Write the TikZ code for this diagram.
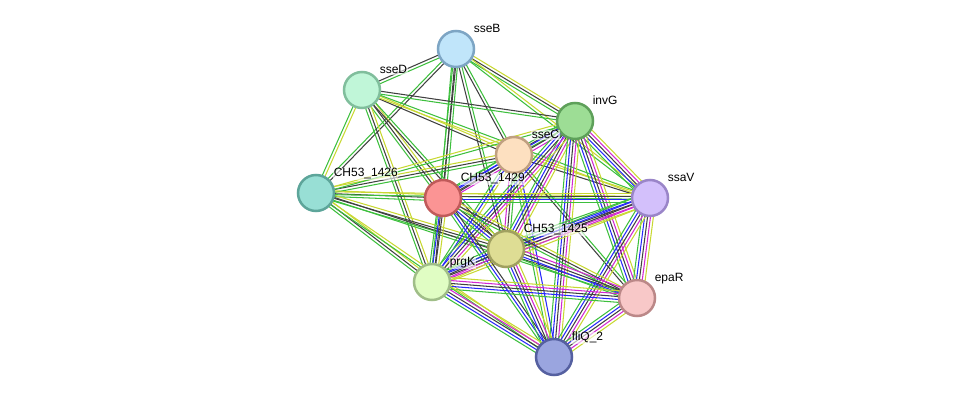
\documentclass[tikz,border=0pt]{standalone}
\usepackage{fontspec}
\setmainfont{Liberation Sans}
\usepackage{tikz}
\usetikzlibrary{calc, backgrounds}
% evidence colours
\definecolor{egreen}{RGB}{61, 191, 61}
\definecolor{eblack}{RGB}{64, 64, 64}
\definecolor{eyellow}{RGB}{200, 216, 50}
\definecolor{eblue}{RGB}{40, 40, 250}
\definecolor{emagenta}{RGB}{210, 40, 210}
% node colours
\definecolor{sseBfill}{RGB}{192, 229, 250}\definecolor{sseBdraw}{RGB}{125, 165, 196}
\definecolor{sseDfill}{RGB}{192, 246, 216}\definecolor{sseDdraw}{RGB}{128, 190, 156}
\definecolor{invGfill}{RGB}{157, 221, 149}\definecolor{invGdraw}{RGB}{94, 160, 90}
\definecolor{sseCfill}{RGB}{253, 224, 192}\definecolor{sseCdraw}{RGB}{192, 160, 128}
\definecolor{cAfill}{RGB}{152, 223, 213}\definecolor{cAdraw}{RGB}{93, 165, 154}
\definecolor{cBfill}{RGB}{251, 148, 148}\definecolor{cBdraw}{RGB}{192, 90, 90}
\definecolor{ssaVfill}{RGB}{211, 192, 251}\definecolor{ssaVdraw}{RGB}{154, 133, 200}
\definecolor{cCfill}{RGB}{222, 221, 148}\definecolor{cCdraw}{RGB}{160, 160, 96}
\definecolor{prgKfill}{RGB}{224, 253, 195}\definecolor{prgKdraw}{RGB}{160, 190, 136}
\definecolor{epaRfill}{RGB}{248, 200, 200}\definecolor{epaRdraw}{RGB}{187, 136, 136}
\definecolor{fliQfill}{RGB}{154, 165, 223}\definecolor{fliQdraw}{RGB}{85, 96, 160}

% one edge = parallel lines, one per evidence colour
\newcommand{\evlink}[3]{%
  \foreach \col [count=\n] in {#3} {\global\let\nev\n}%
  \foreach \col [count=\i] in {#3} {%
    \pgfmathsetmacro\evoff{(\i-(\nev+1)/2)*2.9}%
    \draw[ev, \col] ($(#1)!\evoff pt!90:(#2)$) -- ($(#2)!\evoff pt!-90:(#1)$);
  }%
}

\begin{document}
\begin{tikzpicture}[x=1pt, y=-1pt,
  prot/.style={circle, minimum size=36pt, inner sep=0pt, line width=2.5pt},
  ev/.style={line width=1.05pt},
  lbl/.style={font=\fontsize{12}{14}\selectfont, anchor=base west, fill=white,
    fill opacity=0.6, text opacity=1, inner sep=0.6pt},
]
  \useasboundingbox (0,0) rectangle (975,403);

  % Proteins
  \node[prot, fill=sseBfill, draw=sseBdraw] (sseB) at (456,49) {};
  \node[prot, fill=sseDfill, draw=sseDdraw] (sseD) at (362,90) {};
  \node[prot, fill=invGfill, draw=invGdraw] (invG) at (575,121) {};
  \node[prot, fill=sseCfill, draw=sseCdraw] (sseC) at (514,155) {};
  \node[prot, fill=cAfill, draw=cAdraw] (c1426) at (316,193) {};
  \node[prot, fill=cBfill, draw=cBdraw] (c1429) at (443,198) {};
  \node[prot, fill=ssaVfill, draw=ssaVdraw] (ssaV) at (650,198) {};
  \node[prot, fill=cCfill, draw=cCdraw] (c1425) at (506,249) {};
  \node[prot, fill=prgKfill, draw=prgKdraw] (prgK) at (432,282) {};
  \node[prot, fill=epaRfill, draw=epaRdraw] (epaR) at (637,298) {};
  \node[prot, fill=fliQfill, draw=fliQdraw] (fliQ) at (554,357) {};

  % Associations
  \begin{scope}[on background layer]
    \evlink{sseB}{sseD}{eblack,egreen}
    \evlink{sseB}{c1426}{egreen,eblack}
    \evlink{sseB}{c1429}{egreen,eblack,egreen}
    \evlink{sseB}{prgK}{egreen,eblack}
    \evlink{sseB}{sseC}{eblack,egreen}
    \evlink{sseB}{c1425}{eblack,egreen}
    \evlink{sseB}{invG}{egreen,eblack,eyellow}
    \evlink{sseB}{ssaV}{egreen,eyellow}
    \evlink{sseD}{c1426}{egreen,eyellow}
    \evlink{sseD}{c1429}{egreen,eblack,eyellow}
    \evlink{sseD}{prgK}{egreen,eblack,eyellow}
    \evlink{sseD}{sseC}{eblack,eyellow}
    \evlink{sseD}{invG}{egreen,eblack}
    \evlink{sseD}{c1425}{eblack,egreen}
    \evlink{sseD}{ssaV}{eyellow,egreen}
    \evlink{c1426}{c1429}{egreen,eblack,eyellow}
    \evlink{c1426}{sseC}{egreen,eblack,eyellow}
    \evlink{c1426}{invG}{egreen,eyellow}
    \evlink{c1426}{prgK}{egreen,eblack,eyellow}
    \evlink{c1426}{c1425}{egreen,eblack,eyellow}
    \evlink{c1426}{ssaV}{egreen,eyellow}
    \evlink{c1426}{fliQ}{egreen,eyellow}
    \evlink{c1426}{epaR}{egreen,eblack}
    \evlink{sseC}{invG}{egreen,eblack}
    \evlink{sseC}{c1429}{egreen,eblue,eblack}
    \evlink{sseC}{c1425}{emagenta,eblack,egreen}
    \evlink{sseC}{prgK}{egreen,eblue,eyellow}
    \evlink{sseC}{ssaV}{eblack,eyellow}
    \evlink{sseC}{epaR}{eblack,egreen}
    \evlink{sseC}{fliQ}{egreen,eyellow,eblue}
    \evlink{invG}{ssaV}{egreen,eblue,eblack,emagenta,eyellow}
    \evlink{invG}{c1429}{egreen,eblue,eblack,emagenta}
    \evlink{invG}{c1425}{egreen,eblue,eblack,emagenta,eyellow}
    \evlink{invG}{prgK}{egreen,eblue,eblack,emagenta,eyellow}
    \evlink{invG}{epaR}{egreen,eblue,eblack,emagenta,eyellow}
    \evlink{invG}{fliQ}{egreen,eblue,eblack,emagenta,eyellow}
    \evlink{ssaV}{c1429}{eyellow,eblack,eblue,egreen}
    \evlink{ssaV}{c1425}{egreen,eblue,eblack,emagenta,eyellow}
    \evlink{ssaV}{prgK}{egreen,eblue,eblack,emagenta,eyellow}
    \evlink{ssaV}{epaR}{egreen,eblue,eblack,emagenta,eyellow}
    \evlink{ssaV}{fliQ}{egreen,eblue,eblack,emagenta,eyellow}
    \evlink{c1429}{c1425}{egreen,eblue,eblack,eyellow}
    \evlink{c1429}{prgK}{egreen,eblue,eblack,eyellow}
    \evlink{c1429}{fliQ}{egreen,eblue,eblack}
    \evlink{c1429}{epaR}{egreen,eblack,eyellow}
    \evlink{c1425}{prgK}{egreen,eblue,eblack,emagenta,eyellow}
    \evlink{c1425}{epaR}{egreen,eblue,eblack,emagenta}
    \evlink{c1425}{fliQ}{egreen,eblue,eblack,emagenta,eyellow}
    \evlink{prgK}{epaR}{egreen,eblue,eblack,emagenta,eyellow}
    \evlink{prgK}{fliQ}{egreen,eblue,eblack,emagenta,eyellow}
    \evlink{epaR}{fliQ}{egreen,eblue,eblack,emagenta,eyellow}
  \end{scope}

  % Labels
  \foreach \p/\t in {sseB/sseB, sseD/sseD, invG/invG, sseC/sseC, c1426/CH53\_1426,
      c1429/CH53\_1429, ssaV/ssaV, c1425/CH53\_1425, prgK/prgK, epaR/epaR, fliQ/fliQ\_2} {
    \node[lbl] (\p-lbl) at ($(\p)+(17,-16)$) {\t};
  }
\end{tikzpicture}
\end{document}
